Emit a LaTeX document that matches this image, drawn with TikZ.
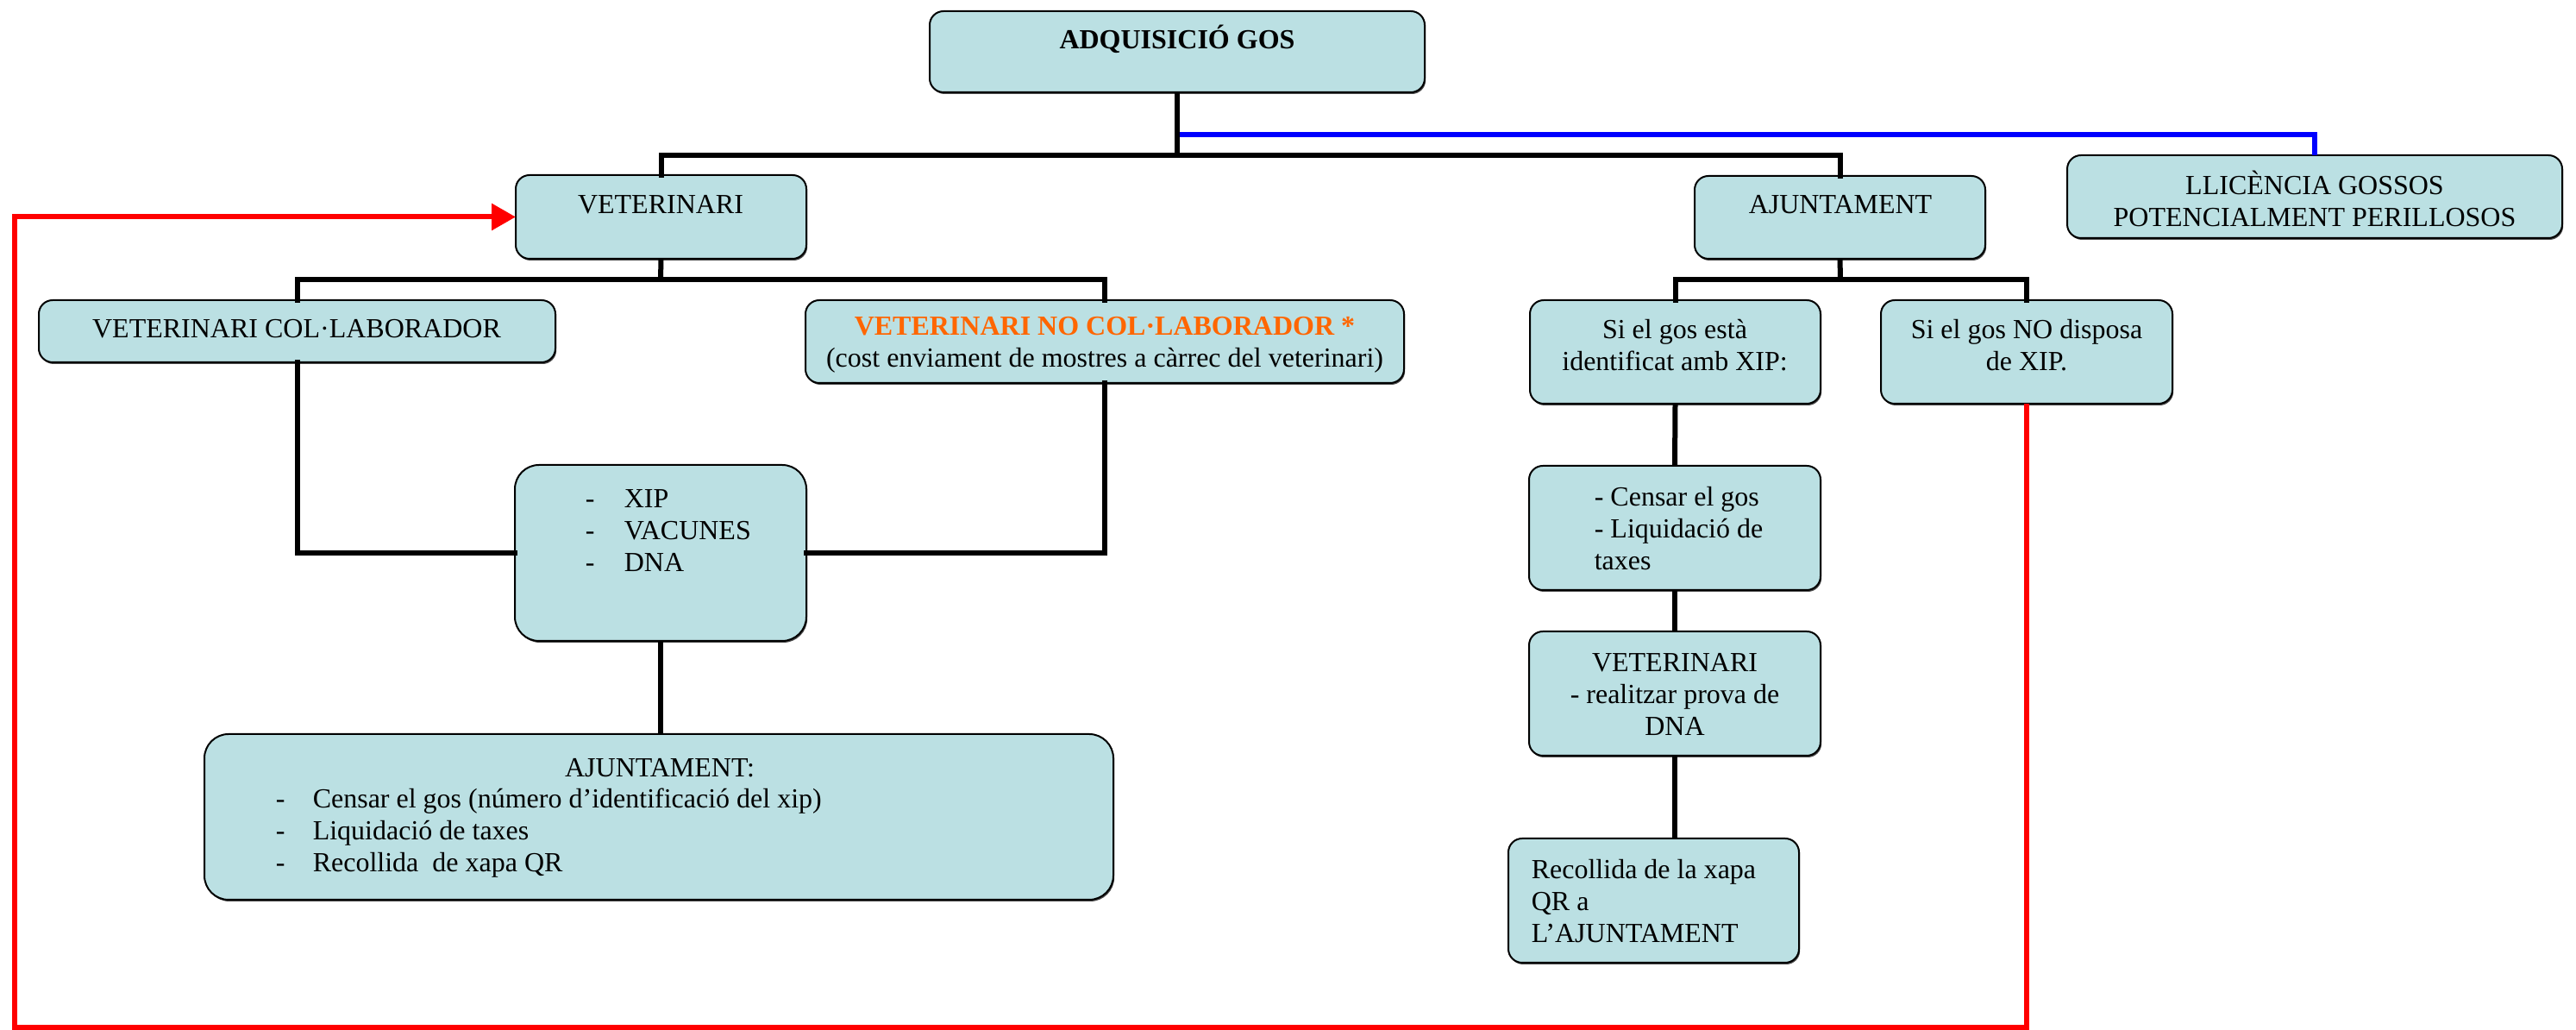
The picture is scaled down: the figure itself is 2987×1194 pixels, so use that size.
\documentclass[tikz,border=0pt]{standalone}
\usepackage{fontspec}
\setmainfont{Liberation Serif}
\usetikzlibrary{arrows.meta,shadows}
\definecolor{boxfill}{RGB}{187,224,227}
\definecolor{orangetxt}{RGB}{255,102,0}
\newcommand\fsz{\fontsize{8}{9.25}\selectfont}
\begin{document}
\begin{tikzpicture}[x=0.25pt,y=-0.25pt,
  box/.style={draw=black, line width=0.5pt, fill=boxfill, rounded corners=4pt,
    inner sep=0pt, outer sep=0pt,
    drop shadow={shadow xshift=0.3pt, shadow yshift=-0.5pt, opacity=0.7, fill=black}},
  bigbox/.style={box, rounded corners=7pt},
  txt/.style={inner sep=0pt, font=\fsz, align=center},
  ltxt/.style={inner sep=0pt, font=\fsz, align=left, anchor=west},
  bar/.style={line width=1.5pt, line cap=rect},
  stem/.style={line width=1.5pt},
  blueline/.style={line width=1.5pt, draw={rgb,255:red,0;green,0;blue,255}},
  redline/.style={line width=1.5pt, draw={rgb,255:red,255;green,0;blue,0}}]
\useasboundingbox (0,0) rectangle (2987,1194);
\fill[white] (0,0) rectangle (2987,1194);

% boxes
\node[box, minimum width=143.5pt, minimum height=23.5pt] (adq) at (1365,60) {};
\node[box, minimum width=84.25pt, minimum height=24.25pt] (vet) at (766.5,251.5) {};
\node[box, minimum width=84.25pt, minimum height=24pt] (aj) at (2133.5,252) {};
\node[box, minimum width=143.5pt, minimum height=24pt] (llic) at (2684,228) {};
\node[box, minimum width=149.75pt, minimum height=18pt] (col) at (344.5,384) {};
\node[box, minimum width=173.5pt, minimum height=24pt] (nocol) at (1281,396) {};
\node[box, minimum width=84.25pt, minimum height=30pt] (est) at (1942.5,408) {};
\node[box, minimum width=84.5pt, minimum height=30pt] (no) at (2350,408) {};
\node[bigbox, minimum width=84.5pt, minimum height=51pt] (xip) at (766,641) {};
\node[bigbox, minimum width=263.5pt, minimum height=48pt] (aj2) at (764,947) {};
\node[box, minimum width=84.5pt, minimum height=36pt] (cens) at (1942,612) {};
\node[box, minimum width=84.5pt, minimum height=36pt] (vet2) at (1942,804) {};
\node[box, minimum width=84.25pt, minimum height=36pt] (rec) at (1917.5,1044) {};

% texts
\node[txt, font=\fsz\bfseries, anchor=base] (tadq) at (1365,56.5) {ADQUISICIÓ GOS};
\node[txt, anchor=base] (tvet) at (766,247.5) {VETERINARI};
\node[txt, anchor=base] (taj) at (2134,247.5) {AJUNTAMENT};
\node[txt] (tllic) at (2684,230.5) {LLICÈNCIA GOSSOS\\POTENCIALMENT PERILLOSOS};
\node[txt, anchor=base] (tcol) at (344,391.5) {VETERINARI COL·LABORADOR};
\node[txt] (tnocol) at (1281,399.5) {{\color{orangetxt}\bfseries VETERINARI NO COL·LABORADOR *}\\(cost enviament de mostres a càrrec del veterinari)};
\node[txt] (test) at (1942,400) {Si el gos està\\identificat amb XIP:};
\node[txt] (tno) at (2350,400) {Si el gos NO disposa\\de XIP.};
\node[ltxt] (txip) at (678,615) {\makebox[11.25pt][l]{-}XIP\\\makebox[11.25pt][l]{-}VACUNES\\\makebox[11.25pt][l]{-}DNA};
\node[txt, anchor=base] (taj2) at (765,900.5) {AJUNTAMENT:};
\node[ltxt] (taj2b) at (319,966) {\makebox[10.75pt][l]{-}Censar el gos (número d’identificació del xip)\\\makebox[10.75pt][l]{-}Liquidació de taxes\\\makebox[10.75pt][l]{-}Recollida\ \ de xapa QR};
\node[ltxt] (tcens) at (1848,613) {- Censar el gos\\- Liquidació de\\taxes};
\node[txt] (tvet2) at (1942,805) {VETERINARI\\- realitzar prova de\\DNA};
\node[ltxt] (trec) at (1775,1045) {Recollida de la xapa\\QR a\\L’AJUNTAMENT};

% connectors
\coordinate (j0) at (1365,156);
\coordinate (j1) at (1365,180);
\coordinate (j2) at (766,324);
\coordinate (j3) at (2134,324);
\coordinate (rc) at (17,1191);

\draw[blueline] (j0) -| (llic.north);
\draw[stem] (adq.south) -- (j1);
\draw[bar] (vet.north) |- (j1) -| (aj.north);

\draw[stem] (vet.south) -- (j2);
\draw[bar] (col.north) |- (j2) -| (nocol.north);
\draw[bar] (col.south) |- (xip.west);
\draw[bar] (nocol.south) |- (xip.east);
\draw[stem] (xip.south) -- (xip.south |- aj2.north);

\draw[stem] (aj.south) -- (j3);
\draw[bar] (est.north) |- (j3) -| (no.north);
\draw[stem] (est.south) -- (cens.north);
\draw[stem] (cens.south) -- (vet2.north);
\draw[stem] (vet2.south) -- (vet2.south |- rec.north);

\draw[redline, -{Triangle[length=7pt,width=7.5pt]}] (no.south) |- (rc) |- (vet.west);
\end{tikzpicture}
\end{document}
